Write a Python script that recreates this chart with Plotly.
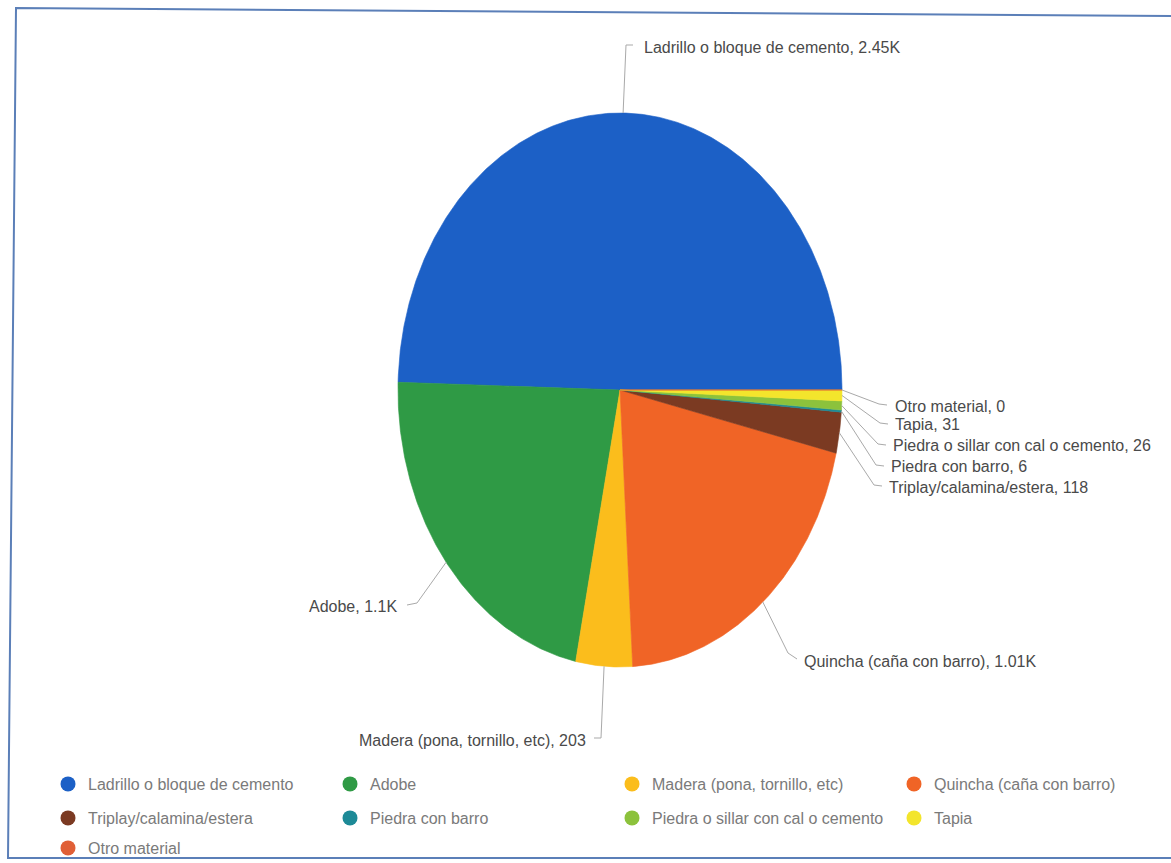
import numpy as np
import plotly.graph_objects as go

# Wall material counts
materials = [
    "Ladrillo o bloque de cemento",
    "Adobe",
    "Madera (pona, tornillo, etc)",
    "Quincha (caña con barro)",
    "Triplay/calamina/estera",
    "Piedra con barro",
    "Piedra o sillar con cal o cemento",
    "Tapia",
    "Otro material",
]
counts = [2450, 1100, 203, 1010, 118, 6, 26, 31, 0]
colors = [
    "#1c60c6", "#2f9a45", "#fbbd1c", "#f06426", "#7b3a22",
    "#1d8a97", "#8cc23c", "#f3e52c", "#e05f36",
]

W, H = 1171, 863
CX, CY, RX, RY = 620, 390, 222, 277  # ellipse centre and radii (px)
FONT = "Liberation Sans, Arial, sans-serif"

# label layout: (elbow, end of leader, text position, anchor)
label_layout = {
    "Ladrillo o bloque de cemento": ((626, 45), (633, 45), (642, 47), "left"),
    "Adobe": ((417, 603), (407, 605), (399, 606), "right"),
    "Madera (pona, tornillo, etc)": ((601, 738), (594, 738), (588, 740), "right"),
    "Quincha (caña con barro)": ((788, 653), (797, 659), (802, 661), "left"),
    "Triplay/calamina/estera": ((874, 485), (882, 486), (887, 487), "left"),
    "Piedra con barro": ((876, 465), (884, 466), (889, 466), "left"),
    "Piedra o sillar con cal o cemento": ((878, 444), (886, 445), (891, 445), "left"),
    "Tapia": ((880, 423), (888, 424), (893, 424), "left"),
    "Otro material": ((879, 404), (887, 405), (893, 406), "left"),
}

# legend grid: which legend box each entry sits in
legend_of = {
    "Ladrillo o bloque de cemento": "legend",
    "Adobe": "legend",
    "Madera (pona, tornillo, etc)": "legend",
    "Quincha (caña con barro)": "legend4",
    "Triplay/calamina/estera": "legend2",
    "Piedra con barro": "legend2",
    "Piedra o sillar con cal o cemento": "legend2",
    "Tapia": "legend5",
    "Otro material": "legend3",
}


def fmt(v):
    if v >= 1000:
        return f"{v / 1000:.3g}K"
    return str(v)


total = float(sum(counts))
fig = go.Figure()

start = 0.0
annotations = []
for name, val, col in zip(materials, counts, colors):
    sweep = 360.0 * val / total
    n = max(2, int(sweep * 2) + 2)
    th = np.radians(np.linspace(start, start + sweep, n))
    xs = np.concatenate([[CX], CX + RX * np.cos(th), [CX]])
    ys = np.concatenate([[CY], CY - RY * np.sin(th), [CY]])
    # slice
    fig.add_trace(go.Scatter(
        x=xs, y=ys, mode="lines", fill="toself", fillcolor=col,
        line=dict(color=col, width=0.6), name=name, legendgroup=name,
        showlegend=False, hovertemplate=f"{name}: {val}<extra></extra>",
    ))
    # legend entry
    fig.add_trace(go.Scatter(
        x=[None], y=[None], mode="markers", name=name, legendgroup=name,
        legend=legend_of[name], marker=dict(color=col, size=15, symbol="circle"),
    ))
    mid = np.radians(start + sweep / 2)
    ex, ey = CX + RX * np.cos(mid), CY - RY * np.sin(mid)
    (bx, by), (tx, ty), (lx, ly), anchor = label_layout[name]
    fig.add_trace(go.Scatter(
        x=[ex, bx, tx], y=[ey, by, ty], mode="lines",
        line=dict(color="#a9a9a9", width=1), showlegend=False, hoverinfo="skip",
    ))
    annotations.append(dict(
        x=lx, y=ly, xref="x", yref="y", text=f"{name}, {fmt(val)}",
        showarrow=False, xanchor=anchor, yanchor="middle",
        font=dict(family=FONT, size=16, color="#4a4a4a"),
    ))
    start += sweep

legend_common = dict(
    orientation="h", xanchor="left", yanchor="middle",
    entrywidth=237, bgcolor="rgba(0,0,0,0)", itemclick=False,
    font=dict(family=FONT, size=16, color="#7a7a7a"),
)
col1 = 48 / W
col4 = (48 + 3 * 282) / W
row1, row2, row3 = 1 - 784 / H, 1 - 818 / H, 1 - 848 / H
fig.update_layout(
    width=W, height=H,
    margin=dict(l=0, r=0, t=0, b=0, autoexpand=False),
    paper_bgcolor="white", plot_bgcolor="white",
    xaxis=dict(range=[0, W], visible=False, fixedrange=True),
    yaxis=dict(range=[H, 0], visible=False, fixedrange=True),
    annotations=annotations,
    legend=dict(x=col1, y=row1, **legend_common),
    legend2=dict(x=col1, y=row2, **legend_common),
    legend3=dict(x=col1, y=row3, **legend_common),
    legend4=dict(x=col4, y=row1, **legend_common),
    legend5=dict(x=col4, y=row2, **legend_common),
    shapes=[
        dict(type="path", xref="x", yref="y",
             path="M 1171,16 L 16,8 L 8,858 L 1171,858",
             line=dict(color="#5b7fb8", width=2)),
    ],
)

fig.write_html("out.html")
